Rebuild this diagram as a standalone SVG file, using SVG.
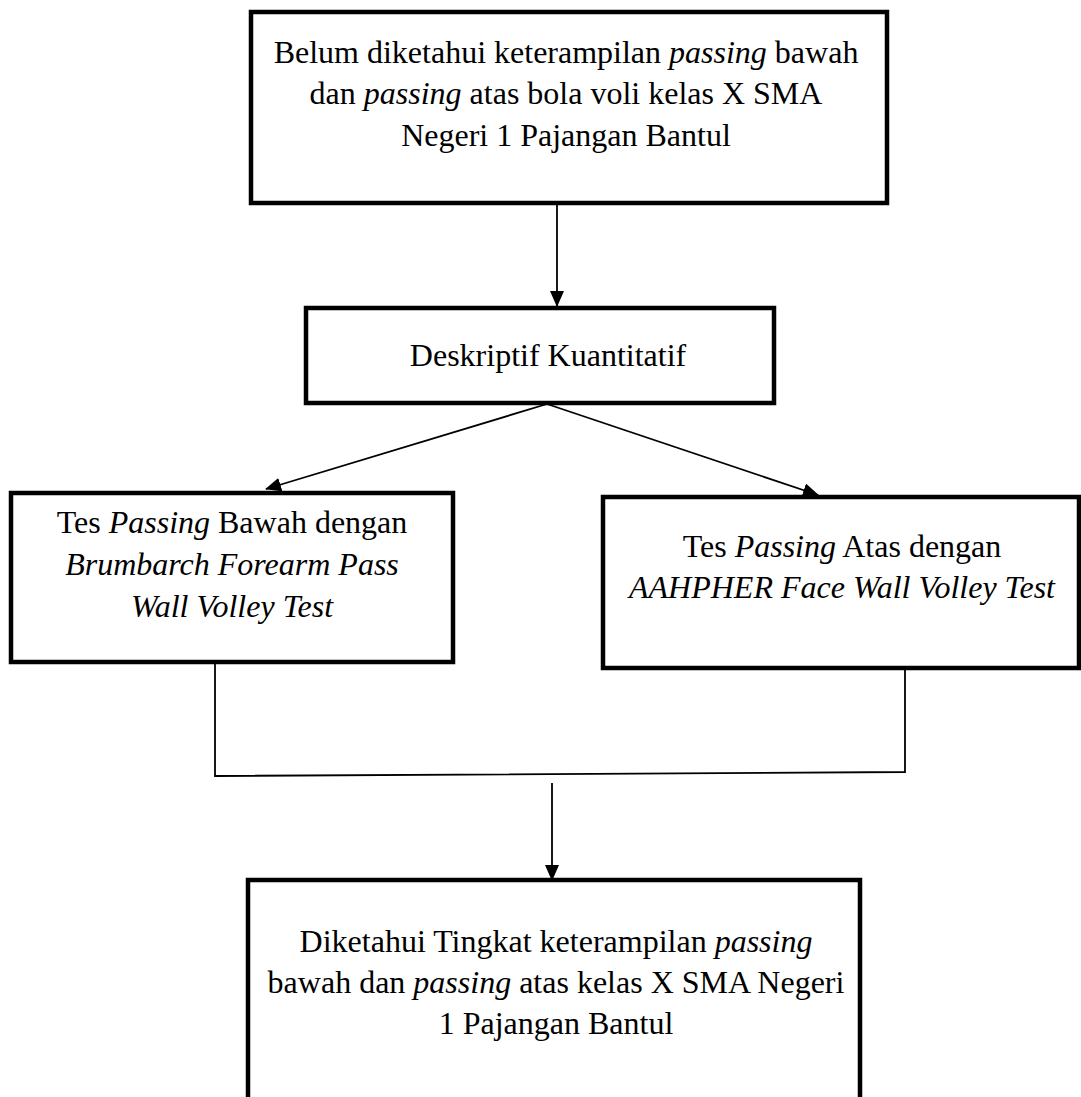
<svg xmlns="http://www.w3.org/2000/svg" width="1081" height="1097" viewBox="0 0 1081 1097">
<style>
.box{fill:#fff;stroke:#000;stroke-width:4.5}
.t{font-family:"Liberation Serif","Times New Roman",serif;font-size:32px;fill:#000;text-anchor:middle}
.i{font-style:italic}
.c{stroke:#000;stroke-width:1.8;fill:none}
</style>
<defs>
<marker id="ah" markerUnits="userSpaceOnUse" markerWidth="16" markerHeight="14" refX="15" refY="7" orient="auto">
<path d="M0,0 L16,7 L0,14 Z" fill="#000"/>
</marker>
</defs>
<rect width="1081" height="1097" fill="#fff"/>
<g id="connectors">
<line class="c" x1="557" y1="204" x2="557" y2="306" marker-end="url(#ah)"/>
<line class="c" x1="547" y1="404" x2="266" y2="489" marker-end="url(#ah)"/>
<line class="c" x1="547" y1="404" x2="818" y2="495" marker-end="url(#ah)"/>
<polyline class="c" points="215,658 215,776 905,772 905,668"/>
<line class="c" x1="552" y1="783" x2="552" y2="880" marker-end="url(#ah)"/>
</g>
<g id="n1">
<rect class="box" x="251" y="12" width="636" height="191"/>
<text class="t" x="566" y="63">Belum diketahui keterampilan <tspan class="i">passing</tspan> bawah</text>
<text class="t" x="566" y="104">dan <tspan class="i">passing</tspan> atas bola voli kelas X SMA</text>
<text class="t" x="566" y="146">Negeri 1 Pajangan Bantul</text>
</g>
<g id="n2">
<rect class="box" x="306" y="308" width="468" height="95"/>
<text class="t" x="548" y="366">Deskriptif Kuantitatif</text>
</g>
<g id="n3">
<rect class="box" x="11" y="493" width="442" height="169"/>
<text class="t" x="232" y="533">Tes <tspan class="i">Passing</tspan> Bawah dengan</text>
<text class="t i" x="232" y="575">Brumbarch Forearm Pass</text>
<text class="t i" x="232" y="617">Wall Volley Test</text>
</g>
<g id="n4">
<rect class="box" x="603" y="497" width="476" height="171"/>
<text class="t" x="842" y="557">Tes <tspan class="i">Passing</tspan> Atas dengan</text>
<text class="t i" x="842" y="598">AAHPHER Face Wall Volley Test</text>
</g>
<g id="n5">
<path class="box" d="M248,1100 L248,880 L860,880 L860,1100"/>
<text class="t" x="556" y="952">Diketahui Tingkat keterampilan <tspan class="i">passing</tspan></text>
<text class="t" x="556" y="993">bawah dan <tspan class="i">passing</tspan> atas kelas X SMA Negeri</text>
<text class="t" x="556" y="1034">1 Pajangan Bantul</text>
</g>
</svg>
